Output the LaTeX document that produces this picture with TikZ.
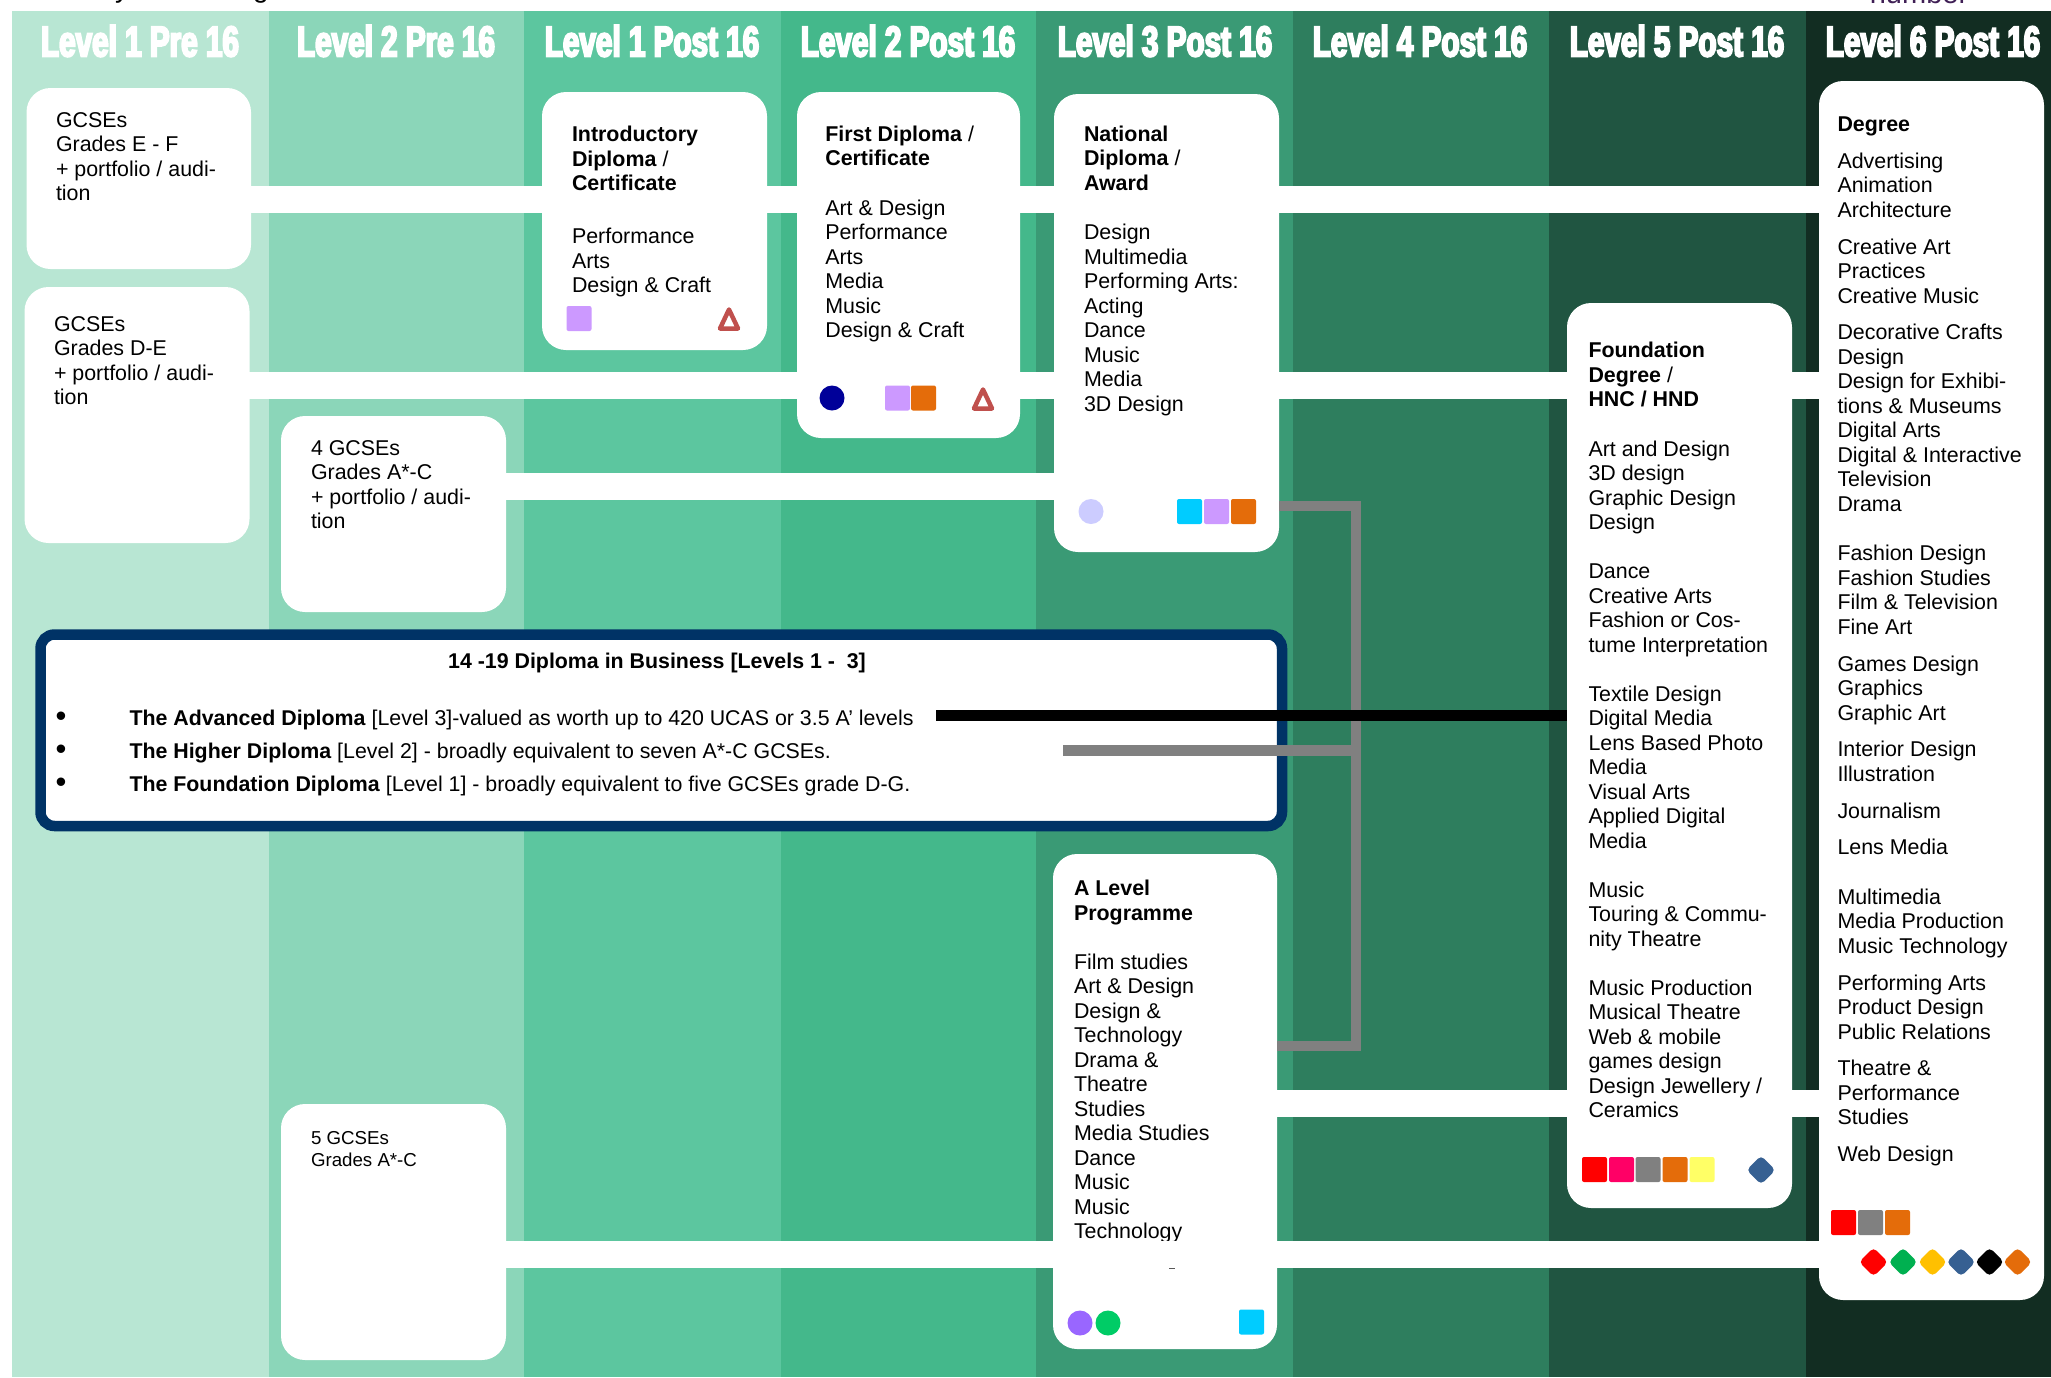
\documentclass[tikz,border=0pt]{standalone}
\usepackage{fontspec}
\setmainfont{Liberation Sans}
\newfontfamily\hdrfont[FakeStretch=0.69,FakeBold=4.5]{Liberation Sans Bold}
\definecolor{colA}{HTML}{B8E6D3}
\definecolor{colB}{HTML}{8BD6B9}
\definecolor{colC}{HTML}{5CC69F}
\definecolor{colD}{HTML}{44B88B}
\definecolor{colE}{HTML}{3A9A75}
\definecolor{colF}{HTML}{2E7E5E}
\definecolor{colG}{HTML}{205541}
\definecolor{colH}{HTML}{122D22}
\definecolor{navyb}{HTML}{003366}
\definecolor{lav}{HTML}{CC99FF}
\definecolor{orng}{HTML}{E46C0A}
\definecolor{cyanb}{HTML}{00CCFF}
\definecolor{bluem}{HTML}{366092}
\definecolor{redt}{HTML}{C0504D}
\definecolor{purpt}{HTML}{3F1F55}
\definecolor{navyd}{HTML}{000099}
\definecolor{palev}{HTML}{CCCCFF}
\definecolor{purpd}{HTML}{9966FF}
\definecolor{greend}{HTML}{00CC66}
\definecolor{pinks}{HTML}{FF0066}
\definecolor{yells}{HTML}{FFFF66}
\definecolor{greenk}{HTML}{00B050}
\definecolor{golds}{HTML}{FFC000}
\newcommand\fl{\rule{0pt}{20pt}}
\tikzset{
  x=1pt,y=-1pt,
  whitebox/.style={fill=white,rounded corners=24pt,inner sep=0pt,outer sep=0pt},
  band/.style={white,line width=27pt},
  txt/.style={anchor=north west,inner sep=0pt,outer sep=0pt,align=left,text=black,font=\fontsize{21.4}{24.5}\selectfont},
  smalltxt/.style={txt,font=\fontsize{18.7}{22}\selectfont},
  diptxt/.style={txt,font=\fontsize{21.35}{33}\selectfont},
  bullt/.style={anchor=base,inner sep=0pt,outer sep=0pt,text=black,font=\fontsize{31}{31}\selectfont},
  hdr/.style={text=white,inner sep=0pt,font=\hdrfont\fontsize{43}{43}\selectfont},
  sq/.style={fill=#1,minimum size=25pt,inner sep=0pt,outer sep=0pt,rounded corners=2pt},
  dot/.style={fill=#1,circle,minimum size=25pt,inner sep=0pt,outer sep=0pt},
  dia/.style={fill=#1,minimum size=20.5pt,inner sep=0pt,outer sep=0pt,rotate=45,rounded corners=4.5pt},
  tri/.style={draw=redt,fill=white,line width=4.5pt,line join=round},
}
\newcommand\bx[5]{\node[whitebox,minimum width={(#4-#2)*1pt},minimum height={(#5-#3)*1pt}] (#1) at ({(#2+#4)/2},{(#3+#5)/2}) {};}
\begin{document}
\begin{tikzpicture}
\useasboundingbox (0,0) rectangle (2051,1377);
% columns
\fill[colA] (12,11) rectangle (269,1377);
\fill[colB] (269,11) rectangle (524,1377);
\fill[colC] (524,11) rectangle (781,1377);
\fill[colD] (781,11) rectangle (1036,1377);
\fill[colE] (1036,11) rectangle (1293,1377);
\fill[colF] (1293,11) rectangle (1549,1377);
\fill[colG] (1549,11) rectangle (1806,1377);
\fill[colH] (1806,11) rectangle (2051,1377);
% clipped remains of text above the picture
\node[anchor=base,inner sep=0pt,text=black,font=\fontsize{28}{28}\selectfont] (topy) at (122,-3) {y};
\node[anchor=base,inner sep=0pt,text=black,font=\fontsize{28}{28}\selectfont] (topg) at (261,-3) {g};
\node[anchor=base,inner sep=0pt,text=purpt,font=\fontsize{29}{29}\selectfont] (topn) at (1919,3) {number};
% headers
\node[hdr] (h1) at (140,41) {Level 1 Pre 16};
\node[hdr] (h2) at (396,41) {Level 2 Pre 16};
\node[hdr] (h3) at (652,41) {Level 1 Post 16};
\node[hdr] (h4) at (908,41) {Level 2 Post 16};
\node[hdr] (h5) at (1165,41) {Level 3 Post 16};
\node[hdr] (h6) at (1420,41) {Level 4 Post 16};
\node[hdr] (h7) at (1677,41) {Level 5 Post 16};
\node[hdr] (h8) at (1933,41) {Level 6 Post 16};
% boxes
\bx{gef}{26.5}{88}{251}{269}
\bx{gde}{24.5}{287}{249.5}{543}
\bx{gfour}{281}{416}{506}{612}
\bx{gfive}{281}{1104}{506}{1360}
\bx{intro}{542}{92}{767}{350}
\bx{first}{797}{92}{1020}{438}
\bx{natl}{1054}{94}{1279}{552}
\bx{found}{1567}{303}{1792}{1208}
\bx{degree}{1819}{81}{2044}{1300}
\bx{alevel}{1053}{854}{1277}{1349}
% band levels
\coordinate (ya) at (0,199.5);
\coordinate (yb) at (0,385.5);
\coordinate (yc) at (0,486);
\coordinate (yd) at (0,1103.5);
\coordinate (ye) at (0,1254.5);
\coordinate (yk) at (0,506);
\coordinate (yl) at (0,1046);
\coordinate (ym) at (0,750.5);
\coordinate (yn) at (0,715.5);
\coordinate (bk) at (1356,0);
\coordinate (gs) at (1063,0);
\coordinate (bs) at (936,0);
% bands
\draw[band] (ya -| gef.center) -- (ya -| intro.center) -- (ya -| first.center) -- (ya -| natl.center) -- (ya -| degree.center);
\draw[band] (yb -| gde.center) -- (yb -| first.center) -- (yb -| natl.center) -- (yb -| found.center) -- (yb -| degree.center);
\draw[band] (yc -| gfour.center) -- (yc -| natl.center);
\draw[band] (yd -| alevel.center) -- (yd -| found.center) -- (yd -| degree.center);
% texts
\node[txt] (tef) at (56,107) {\fl GCSEs\\Grades E - F\\+ portfolio / audi-\\tion};
\node[txt] (tde) at (54,311) {\fl GCSEs\\Grades D-E\\+ portfolio / audi-\\tion};
\node[txt] (tfour) at (311,435) {\fl 4 GCSEs\\Grades A*-C\\+ portfolio / audi-\\tion};
\node[smalltxt] (tfive) at (311,1124.7) {\fl 5 GCSEs\\Grades A*-C};
\node[txt] (tintro) at (572,121.5) {\fl\textbf{Introductory}\\\textbf{Diploma} /\\\textbf{Certificate}\\[28.5pt]Performance\\Arts\\Design \& Craft};
\node[txt] (tfirst) at (825.3,121) {\fl\textbf{First Diploma} /\\\textbf{Certificate}\\[25pt]Art \& Design\\Performance\\Arts\\Media\\Music\\Design \& Craft};
\node[txt] (tnatl) at (1084,121) {\fl\textbf{National}\\\textbf{Diploma} /\\\textbf{Award}\\[25pt]Design\\Multimedia\\Performing Arts:\\Acting\\Dance\\Music\\Media\\3D Design};
\node[txt] (tfound) at (1588.5,337.5) {\fl\textbf{Foundation}\\\textbf{Degree} /\\\textbf{HNC / HND}\\[25pt]Art and Design\\3D design\\Graphic Design\\Design\\[24.5pt]Dance\\Creative Arts\\Fashion or Cos-\\tume Interpretation\\[24.5pt]Textile Design\\Digital Media\\Lens Based Photo\\Media\\Visual Arts\\Applied Digital\\Media\\[24.5pt]Music\\Touring \& Commu-\\nity Theatre\\[24.5pt]Music Production\\Musical Theatre\\Web \& mobile\\games design\\Design Jewellery /\\Ceramics};
\node[txt] (tdegree) at (1837.5,111.5) {\fl\textbf{Degree}\\[12.3pt]Advertising\\Animation\\Architecture\\[12.3pt]Creative Art\\Practices\\Creative Music\\[12.3pt]Decorative Crafts\\Design\\Design for Exhibi-\\tions \& Museums\\Digital Arts\\Digital \& Interactive\\Television\\Drama\\[24.8pt]Fashion Design\\Fashion Studies\\Film \& Television\\Fine Art\\[12.3pt]Games Design\\Graphics\\Graphic Art\\[12.3pt]Interior Design\\Illustration\\[12.3pt]Journalism\\[12.3pt]Lens Media\\[24.8pt]Multimedia\\Media Production\\Music Technology\\[12.3pt]Performing Arts\\Product Design\\Public Relations\\[12.3pt]Theatre \&\\Performance\\Studies\\[12.3pt]Web Design};
\node[txt] (talevel) at (1074,875.5) {\fl\textbf{A Level}\\\textbf{Programme}\\[24.5pt]Film studies\\Art \& Design\\Design \&\\Technology\\Drama \&\\Theatre\\Studies\\Media Studies\\Dance\\Music\\Music\\Technology};
% the lowest band runs over the A Level text
\draw[band] (ye -| gfive.center) -- (ye -| alevel.center) -- (ye -| degree.center);
\draw[black!65,line width=1.2pt] (1169,1268.6) -- (1175,1268.6);
% diploma box
\node[draw=navyb,line width=10.5pt,fill=white,rounded corners=14pt,inner sep=0pt,outer sep=0pt,minimum width=1241.5pt,minimum height=191.5pt] (dip) at (661.25,730.25) {};
\node[inner sep=0pt,text=black,font=\fontsize{21.35}{24}\selectfont\bfseries] (diptitle) at (657,663) {14 -19 Diploma in Business [Levels 1 -\ \ 3]};
\node[bullt] (b1) at (61,726) {\textbullet};
\node[bullt] (b2) at (61,759.5) {\textbullet};
\node[bullt] (b3) at (61,792) {\textbullet};
\node[diptxt] (diplines) at (129.5,705.5) {\fl\textbf{The Advanced Diploma} [Level 3]-valued as worth up to 420 UCAS or 3.5 A' levels\\\textbf{The Higher Diploma} [Level 2] - broadly equivalent to seven A*-C GCSEs.\\\textbf{The Foundation Diploma} [Level 1] - broadly equivalent to five GCSEs grade D-G.};
% connectors
\draw[gray,line width=10.5pt] (yk -| natl.east) -- (yk -| bk) -- (yl -| bk) -- (yl -| alevel.east);
\draw[gray,line width=10.5pt] (ym -| gs) -- (ym -| bk);
\draw[black,line width=10.5pt] (yn -| bs) -- (yn -| found.west);
% icons
\node[sq=lav] (i1) at (579,318.5) {};
\draw[tri] (729,309.5) -- (720,328.5) -- (738,328.5) -- cycle;
\node[dot=navyd] (i2) at (832,398) {};
\node[sq=lav] (i3) at (897.5,398) {};
\node[sq=orng] (i4) at (923.5,398) {};
\draw[tri] (983,389.5) -- (974,408.5) -- (992,408.5) -- cycle;
\node[dot=palev] (i5) at (1091,511.5) {};
\node[sq=cyanb] (i6) at (1189.5,511.5) {};
\node[sq=lav] (i7) at (1216.5,511.5) {};
\node[sq=orng] (i8) at (1243.5,511.5) {};
\node[dot=purpd] (i9) at (1080,1323) {};
\node[dot=greend] (i10) at (1108,1323) {};
\node[sq=cyanb] (i11) at (1251.5,1322) {};
\node[sq=red] (i12) at (1594.5,1169.5) {};
\node[sq=pinks] (i13) at (1621.5,1169.5) {};
\node[sq=gray] (i14) at (1648,1169.5) {};
\node[sq=orng] (i15) at (1675,1169.5) {};
\node[sq=yells] (i16) at (1702,1169.5) {};
\node[dia=bluem] (i17) at (1761,1170) {};
\node[sq=red] (i18) at (1843.5,1222.5) {};
\node[sq=gray] (i19) at (1870.5,1222.5) {};
\node[sq=orng] (i20) at (1897.5,1222.5) {};
\node[dia=red] (i21) at (1873.5,1262) {};
\node[dia=greenk] (i22) at (1903,1262) {};
\node[dia=golds] (i23) at (1932.5,1262) {};
\node[dia=bluem] (i24) at (1961,1262) {};
\node[dia=black] (i25) at (1989.5,1262) {};
\node[dia=orng] (i26) at (2017.5,1262) {};
\end{tikzpicture}
\end{document}
